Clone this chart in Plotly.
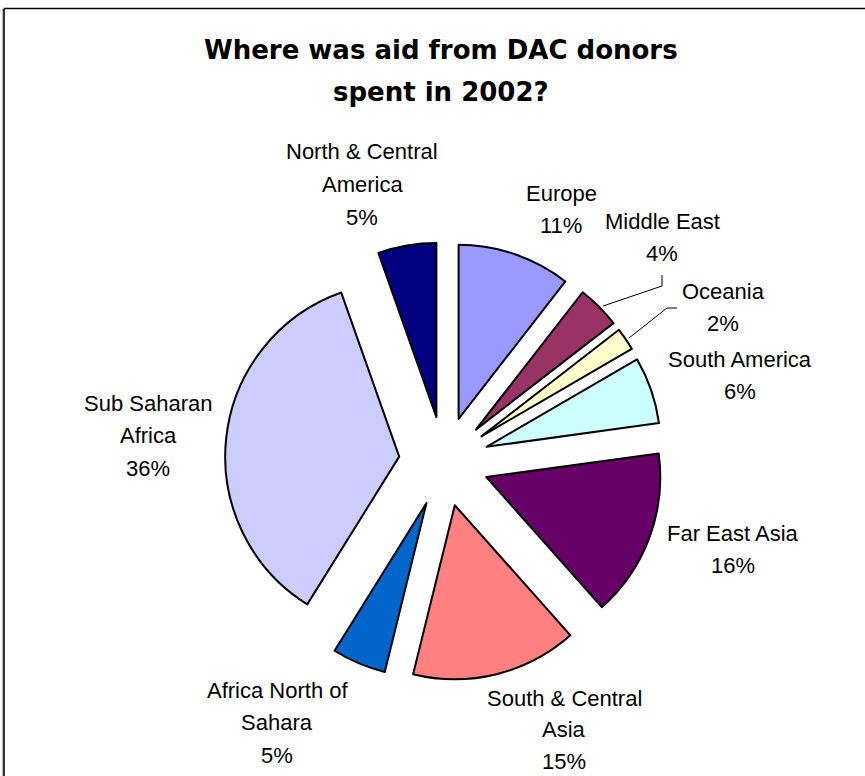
import plotly.graph_objects as go

# ---- data ----
regions = ["Europe", "Middle East", "Oceania", "South America", "Far East Asia",
           "South & Central Asia", "Africa North of Sahara", "Sub Saharan Africa",
           "North & Central America"]
shares = [10.5, 4.0, 2.1, 6.2, 15.6, 15.4, 5.0, 35.7, 5.4]
pct_labels = ["11%", "4%", "2%", "6%", "16%", "15%", "5%", "36%", "5%"]
label_lines = [["Europe"], ["Middle East"], ["Oceania"], ["South America"], ["Far East Asia"],
               ["South & Central", "Asia"], ["Africa North of", "Sahara"], ["Sub Saharan", "Africa"],
               ["North & Central", "America"]]
colors = ["#9999FF", "#993366", "#FFFFCC", "#CCFFFF", "#660066",
          "#FF8080", "#0066CC", "#CCCCFF", "#000080"]
title_lines = ["Where was aid from DAC donors", "spent in 2002?"]

# ---- layout constants ----
W, H = 865, 776
cx, cy, r, pull = 444, 461.5, 174, 0.259
half = r * (1 + pull)
dom_x = [(cx - half) / W, (cx + half) / W]
dom_y = [(H - cy - half) / H, (H - cy + half) / H]

# label anchor (center x, first line center y) in pixels
label_pos = [(561, 193), (662, 221), (723, 291), (740, 359), (733, 533),
             (564, 698), (277, 690), (148, 403), (362, 152)]
line_gaps = [32.5, 32.5, 32.5, 32.5, 32.5, 31.5, 32.5, 32.5, 32.5]

fig = go.Figure(go.Pie(
    labels=regions, values=shares, sort=False, direction="clockwise", rotation=0,
    pull=[pull] * len(shares), textinfo="none", hoverinfo="label+percent",
    marker=dict(colors=colors, line=dict(color="black", width=2)),
    domain=dict(x=dom_x, y=dom_y), showlegend=False,
))

def px_to_paper(x, y):
    return x / W, 1 - y / H

annotations = []
for lines, pct, (lx, ly), gap in zip(label_lines, pct_labels, label_pos, line_gaps):
    for i, t in enumerate(lines + [pct]):
        px_, py_ = px_to_paper(lx, ly + i * gap)
        annotations.append(dict(x=px_, y=py_, xref="paper", yref="paper", text=t,
                                showarrow=False, xanchor="center", yanchor="middle",
                                font=dict(family="Liberation Sans, Arial", size=22, color="black")))

for i, t in enumerate(title_lines):
    px_, py_ = px_to_paper(441, 50 + i * 42)
    annotations.append(dict(x=px_, y=py_, xref="paper", yref="paper", text="<b>%s</b>" % t,
                            showarrow=False, xanchor="center", yanchor="middle",
                            font=dict(family="DejaVu Sans", size=26, color="black")))

shapes = []
def line(x0, y0, x1, y1, w=1, c="black"):
    a0, b0 = px_to_paper(x0, y0)
    a1, b1 = px_to_paper(x1, y1)
    shapes.append(dict(type="line", xref="paper", yref="paper", x0=a0, y0=b0, x1=a1, y1=b1,
                       line=dict(color=c, width=w)))

# frame
line(2.5, 9, 2.5, 776, 1.2, "#BBBBBB")
line(4, 8.5, 865, 8.5, 1.6)
line(4, 8.5, 4, 776, 1.6)
# leader lines (Middle East, Oceania)
line(662, 275, 662, 286)
line(662, 286, 603, 306)
line(677, 308, 667, 308)
line(667, 308, 629, 338)

fig.update_layout(width=W, height=H, margin=dict(l=0, r=0, t=0, b=0),
                  paper_bgcolor="white", plot_bgcolor="white",
                  annotations=annotations, shapes=shapes)
fig.write_html("out.html")
